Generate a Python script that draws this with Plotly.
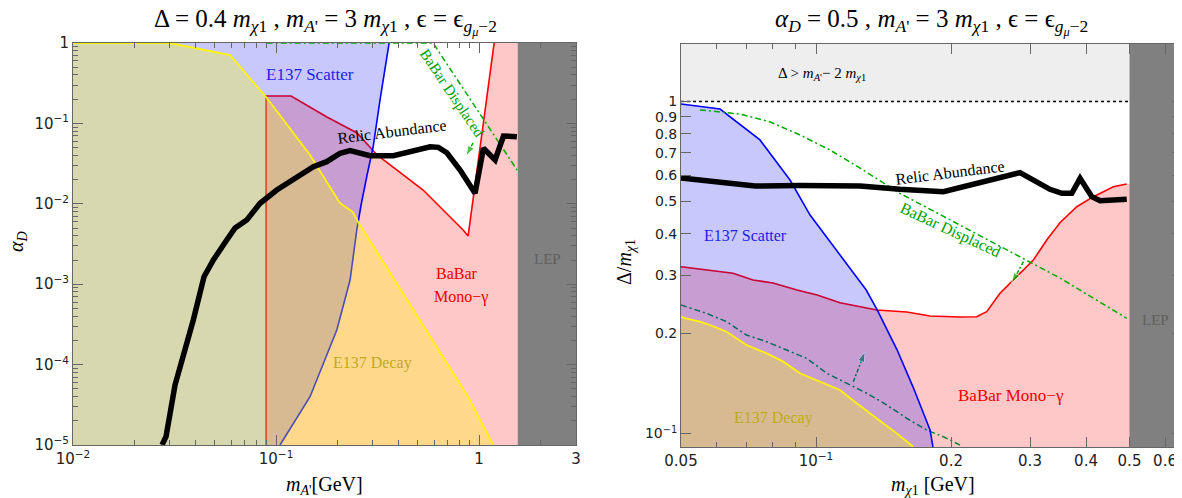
import plotly.graph_objects as go

# Page is rendered with an 8px body margin; figure is sized to fit the window.
OFF = 8
W, H = 1182 - OFF, 498 - OFF

# ---------------- Left panel data (m_A' [GeV], alpha_D) ----------------
L_e137dec_x = [0.01, 0.0301, 0.0593, 0.0893, 0.147, 0.2065, 0.239, 0.2535, 0.883, 1.172]
L_e137dec_y = [1.0, 1.0, 0.709, 0.213, 0.0405, 0.0102, 0.0079, 0.00594, 3.95e-5, 1e-5]

L_e137sc_x = [0.1046, 0.147, 0.1991, 0.2315, 0.2497, 0.2622, 0.2807, 0.3006, 0.325, 0.3604]
L_e137sc_y = [1e-5, 3.99e-5, 2.69e-4, 1.127e-3, 4.72e-3, 9.66e-3, 0.0228, 0.0508, 0.1954, 1.0]

L_babar_x = [0.0893, 0.0893, 0.1186, 0.178, 0.2113, 0.2506, 0.3145, 0.530, 0.834, 0.883, 1.186]
L_babar_y = [1e-5, 0.219, 0.219, 0.120, 0.0955, 0.076, 0.0405, 0.01485, 0.00472, 0.00398, 1.0]

L_disp_x = [0.09, 0.593, 1.538]
L_disp_y = [1.0, 1.0, 0.0263]
L_disp_arrow_x = [0.934, 0.863]
L_disp_arrow_y = [0.0571, 0.0393]

L_relic_x = [0.02744, 0.02871, 0.0318, 0.03913, 0.04418, 0.04911, 0.05715, 0.06281, 0.07173,
             0.08341, 0.1008, 0.1217, 0.1527, 0.1777, 0.2067, 0.2315, 0.2593, 0.2904, 0.3784,
             0.4238, 0.4934, 0.5738, 0.6302, 0.6934, 0.806, 0.955, 1.050, 1.199, 1.318, 1.534]
L_relic_y = [1e-5, 1.27e-5, 5.57e-5, 3.59e-4, 1.24e-3, 2.0e-3, 3.55e-3, 5.0e-3, 6.29e-3,
             0.01014, 0.01485, 0.01977, 0.029, 0.0334, 0.0425, 0.0458, 0.0425, 0.0397, 0.0397,
             0.0425, 0.0458, 0.0513, 0.0504, 0.0432, 0.0263, 0.0135, 0.049, 0.0351, 0.0697, 0.0684]

L_lep_min = 1.55

# ---------------- Right panel data (m_chi1 [GeV], Delta/m_chi1) ----------------
R_e137sc_x = [0.05, 0.0611, 0.0750, 0.0875, 0.0970, 0.1108, 0.1293, 0.1368, 0.1515, 0.1646, 0.1796, 0.1823]
R_e137sc_y = [0.983, 0.949, 0.766, 0.580, 0.455, 0.357, 0.271, 0.236, 0.179, 0.138, 0.1025, 0.091]

R_babar_x = [0.05, 0.057, 0.0653, 0.0724, 0.0802, 0.0907, 0.1006, 0.1131, 0.1297, 0.1366, 0.1594,
             0.1796, 0.2094, 0.2282, 0.2402, 0.2572, 0.2802, 0.3052, 0.3269, 0.3499, 0.3814,
             0.4154, 0.4601, 0.493]
R_babar_y = [0.318, 0.311, 0.304, 0.290, 0.284, 0.2706, 0.2614, 0.2477, 0.2388, 0.2355, 0.2323,
             0.226, 0.2243, 0.2248, 0.2327, 0.2645, 0.2967, 0.333, 0.3826, 0.4313, 0.4821,
             0.5168, 0.5538, 0.5642]

R_e137dec_x = [0.05, 0.0512, 0.0551, 0.0580, 0.0632, 0.0700, 0.0776, 0.0845, 0.0921, 0.1004,
               0.1131, 0.1232, 0.1366, 0.1513, 0.1648]
R_e137dec_y = [0.2249, 0.2223, 0.2172, 0.2122, 0.2025, 0.1848, 0.1744, 0.1646, 0.1518, 0.1449,
               0.1352, 0.1233, 0.1111, 0.1001, 0.0912]

R_disp_up_x = [0.0551, 0.0580, 0.0676, 0.0790, 0.0921, 0.1075, 0.1254, 0.1538, 0.2572, 0.3499, 0.493]
R_disp_up_y = [0.943, 0.936, 0.917, 0.868, 0.793, 0.714, 0.630, 0.529, 0.3653, 0.294, 0.2223]

R_disp_lo_x = [0.05, 0.057, 0.0632, 0.0700, 0.0776, 0.0860, 0.0953, 0.1057, 0.1171, 0.1297,
               0.1437, 0.1594, 0.1765, 0.1923, 0.2094]
R_disp_lo_y = [0.2438, 0.2301, 0.2172, 0.198, 0.189, 0.1785, 0.1684, 0.1518, 0.1416, 0.1322,
               0.1219, 0.1111, 0.1024, 0.0978, 0.0923]

R_arrow_up_x = [0.2901, 0.2731]
R_arrow_up_y = [0.3292, 0.2834]
R_arrow_lo_x = [0.1211, 0.1286]
R_arrow_lo_y = [0.1432, 0.1764]

R_relic_x = [0.05, 0.0611, 0.0731, 0.0921, 0.1254, 0.1538, 0.1923, 0.2850, 0.3324, 0.3533,
             0.3718, 0.3880, 0.4120, 0.4300, 0.493]
R_relic_y = [0.588, 0.572, 0.5564, 0.5585, 0.5564, 0.5438, 0.535, 0.6103, 0.5438, 0.529,
             0.529, 0.587, 0.5168, 0.5026, 0.5075]

R_lep_min = 0.5
R_kin_limit = 1.0

# ---------------- Styles ----------------
PINK = "rgba(255,0,0,0.216)"
BLUE = "rgba(0,0,240,0.216)"
YELL = "rgba(255,255,0,0.30)"
GREEN = "rgb(0,170,0)"
GREEN_D = "rgb(0,135,50)"
DASHDOT = "6px,3px,2px,3px"
SERIF = "Liberation Serif"
SANS = "DejaVu Sans"

fig = go.Figure()


def fill(xs, ys, color, xa, ya):
    fig.add_trace(go.Scatter(x=xs, y=ys, fill="toself", fillcolor=color, mode="lines",
                             line=dict(width=0), hoverinfo="skip", showlegend=False,
                             xaxis=xa, yaxis=ya))


def line(xs, ys, color, width, xa, ya, dash=None):
    fig.add_trace(go.Scatter(x=xs, y=ys, mode="lines",
                             line=dict(color=color, width=width, dash=dash),
                             hoverinfo="skip", showlegend=False, xaxis=xa, yaxis=ya))


def arrow(xs, ys, color, xa, ya):
    fig.add_trace(go.Scatter(x=xs, y=ys, mode="lines+markers",
                             line=dict(color=color, width=1.5, dash="4px,2px,2px,2px"),
                             marker=dict(symbol="arrow", size=[0, 11], color=color,
                                         angleref="previous"),
                             hoverinfo="skip", showlegend=False, xaxis=xa, yaxis=ya))


# ---- Left panel ----
lo, hi, xl, xh = 1e-6, 3.0, 0.005, 10.0
fill([L_babar_x[0]] + L_babar_x + [L_babar_x[-1], xh, xh],
     [lo] + L_babar_y + [hi, hi, lo], PINK, "x", "y")
line(L_babar_x, L_babar_y, "rgb(255,0,0)", 1.6, "x", "y")
fill([xl, L_e137sc_x[0]] + L_e137sc_x + [L_e137sc_x[-1], xl],
     [lo, lo] + L_e137sc_y + [hi, hi], BLUE, "x", "y")
line(L_e137sc_x, L_e137sc_y, "rgb(0,0,255)", 1.6, "x", "y")
fill([xl, xl] + L_e137dec_x + [L_e137dec_x[-1]],
     [lo, L_e137dec_y[0]] + L_e137dec_y + [lo], YELL, "x", "y")
line(L_e137dec_x, L_e137dec_y, "rgb(255,245,0)", 1.8, "x", "y")
line(L_disp_x, L_disp_y, GREEN, 1.5, "x", "y", DASHDOT)
arrow(L_disp_arrow_x, L_disp_arrow_y, GREEN, "x", "y")
line(L_relic_x, L_relic_y, "black", 5.5, "x", "y")
fill([L_lep_min, xh, xh, L_lep_min], [lo, lo, hi, hi], "rgb(128,128,128)", "x", "y")

# ---- Right panel ----
lo2, hi2, xl2, xh2 = 0.05, 3.0, 0.04, 1.0
fill([xl2, R_lep_min, R_lep_min, xl2], [R_kin_limit, R_kin_limit, hi2, hi2],
     "rgb(238,238,238)", "x2", "y2")
line([0.05, R_lep_min], [R_kin_limit, R_kin_limit], "black", 1.6, "x2", "y2", "dot")
fill([xl2, xl2] + R_babar_x + [xh2, xh2],
     [lo2, R_babar_y[0]] + R_babar_y + [R_babar_y[-1], lo2], PINK, "x2", "y2")
line(R_babar_x, R_babar_y, "rgb(255,0,0)", 1.6, "x2", "y2")
line(R_disp_lo_x, R_disp_lo_y, GREEN_D, 1.5, "x2", "y2", DASHDOT)
arrow(R_arrow_lo_x, R_arrow_lo_y, GREEN_D, "x2", "y2")
fill([xl2, xl2] + R_e137sc_x + [R_e137sc_x[-1]],
     [lo2, R_e137sc_y[0]] + R_e137sc_y + [lo2], BLUE, "x2", "y2")
line(R_e137sc_x, R_e137sc_y, "rgb(0,0,255)", 1.6, "x2", "y2")
fill([xl2, xl2] + R_e137dec_x + [R_e137dec_x[-1]],
     [lo2, R_e137dec_y[0]] + R_e137dec_y + [lo2], YELL, "x2", "y2")
line(R_e137dec_x, R_e137dec_y, "rgb(255,245,0)", 1.8, "x2", "y2")
line(R_disp_up_x, R_disp_up_y, GREEN, 1.5, "x2", "y2", DASHDOT)
arrow(R_arrow_up_x, R_arrow_up_y, GREEN, "x2", "y2")
line(R_relic_x, R_relic_y, "black", 5.5, "x2", "y2")
fill([R_lep_min, xh2, xh2, R_lep_min], [0.01, 0.01, hi2, hi2], "rgb(128,128,128)", "x2", "y2")

# ---------------- Axes ----------------
AX = "#666"


def axis(**kw):
    d = dict(type="log", showline=True, linecolor=AX, linewidth=1, mirror="ticks",
             ticks="inside", ticklen=10, tickcolor=AX, tickwidth=1, showgrid=False,
             zeroline=False, automargin=False,
             tickfont=dict(family=SANS, size=15, color="#222"))
    d.update(kw)
    return d


Lx_major = [0.01, 0.1, 1, 3]
Lx_labels = ["10<sup>−2</sup>", "10<sup>−1</sup>", "1", "3"]
Lx_minor = [k * 10.0 ** e for e in (-2, -1, 0) for k in range(2, 10) if k * 10.0 ** e < 3]
Ly_major = [1e-5, 1e-4, 1e-3, 1e-2, 1e-1, 1]
Ly_labels = ["10<sup>−5</sup>", "10<sup>−4</sup>", "10<sup>−3</sup>", "10<sup>−2</sup>", "10<sup>−1</sup>", "1"]
Ly_minor = [k * 10.0 ** e for e in (-5, -4, -3, -2, -1) for k in range(2, 10)]
Rx_major = [0.05, 0.1, 0.2, 0.3, 0.4, 0.5, 0.6]
Rx_labels = ["0.05", "10<sup>−1</sup>", "0.2", "0.3", "0.4", "0.5", "0.6"]
Rx_minor = [0.06, 0.07, 0.08, 0.09]
Ry_major = [0.1, 0.2, 0.3, 0.4, 0.5, 0.6, 0.7, 0.8, 0.9, 1.0]
Ry_labels = ["10<sup>−1</sup>", "0.2", "0.3", "0.4", "0.5", "0.6", "0.7", "0.8", "0.9", "1"]


def minor_cfg(vals):
    return dict(ticks="inside", ticklen=5, tickcolor=AX, tickmode="array", tickvals=vals)


def dx(px):
    return (px - OFF) / W


def dy(py):
    return 1 - (py - OFF) / H


fig.update_layout(
    width=W, height=H, margin=dict(l=0, r=0, t=0, b=0, autoexpand=False),
    paper_bgcolor="white", plot_bgcolor="white", showlegend=False,
    xaxis=axis(domain=[dx(73), dx(576)], range=[-2, 0.47712], anchor="y",
               tickmode="array", tickvals=Lx_major, ticktext=Lx_labels, minor=minor_cfg(Lx_minor)),
    yaxis=axis(domain=[dy(445), dy(43)], range=[-5, 0], anchor="x",
               tickmode="array", tickvals=Ly_major, ticktext=Ly_labels, minor=minor_cfg(Ly_minor)),
    xaxis2=axis(domain=[dx(681), 1.0], range=[-1.30103, -0.18397], anchor="y2",
                tickmode="array", tickvals=Rx_major, ticktext=Rx_labels, minor=minor_cfg(Rx_minor)),
    yaxis2=axis(domain=[dy(447), dy(44)], range=[-1.04066, 0.17319], anchor="x2",
                tickmode="array", tickvals=Ry_major, ticktext=Ry_labels,
                tickfont=dict(family=SANS, size=14, color="#222")),
)


def label(px, py, text, size=16, color="black", angle=0, family=SERIF):
    fig.add_annotation(x=dx(px), y=dy(py), xref="paper", yref="paper", text=text, showarrow=False,
                       textangle=angle, xanchor="center", yanchor="middle",
                       font=dict(family=family, size=size, color=color))


# Titles
label(325, 22, "Δ = 0.4 <i>m</i><sub><i>χ</i>1</sub> , <i>m</i><sub><i>A</i>'</sub> = 3 <i>m</i><sub><i>χ</i>1</sub> , ϵ = ϵ<sub><i>g</i><sub><i>μ</i></sub>−2</sub>", size=25)
label(932, 22, "<i>α</i><sub><i>D</i></sub> = 0.5 , <i>m</i><sub><i>A</i>'</sub> = 3 <i>m</i><sub><i>χ</i>1</sub> , ϵ = ϵ<sub><i>g</i><sub><i>μ</i></sub>−2</sub>", size=25)

# Axis titles
label(324, 485, "<i>m</i><sub><i>A</i>'</sub>[GeV]", size=20)
label(933, 485, "<i>m</i><sub><i>χ</i>1</sub> [GeV]", size=20)
label(18, 242, "<i>α</i><sub><i>D</i></sub>", size=20, angle=-90)
label(625, 262, "Δ/<i>m</i><sub><i>χ</i>1</sub>", size=20, angle=-90)

# Left labels
label(310, 75, "E137 Scatter", color="rgb(30,30,230)", size=17)
label(392, 131, "Relic Abundance", angle=-7)
label(452, 93, "BaBar Displaced", color="rgb(0,160,0)", angle=56, size=15)
label(457, 273, "BaBar", color="rgb(240,0,0)")
label(461, 297, "Mono−γ", color="rgb(240,0,0)")
label(372, 363, "E137 Decay", color="rgb(190,170,30)")
label(547, 259, "LEP", color="rgb(95,95,95)", size=15)

# Right labels
label(822, 74, "Δ > <i>m</i><sub><i>A</i>'</sub>− 2 <i>m</i><sub><i>χ</i>1</sub>", size=15)
label(745, 235, "E137 Scatter", color="rgb(30,30,230)", size=16)
label(950, 172, "Relic Abundance", angle=-7, size=16)
label(950, 230, "BaBar Displaced", color="rgb(0,160,0)", angle=25, size=16)
label(1011, 395, "BaBar Mono−γ", color="rgb(240,0,0)", size=17)
label(773, 418, "E137 Decay", color="rgb(190,170,30)", size=16)
label(1155, 320, "LEP", color="rgb(95,95,95)", size=15)

fig.write_html("out.html")
